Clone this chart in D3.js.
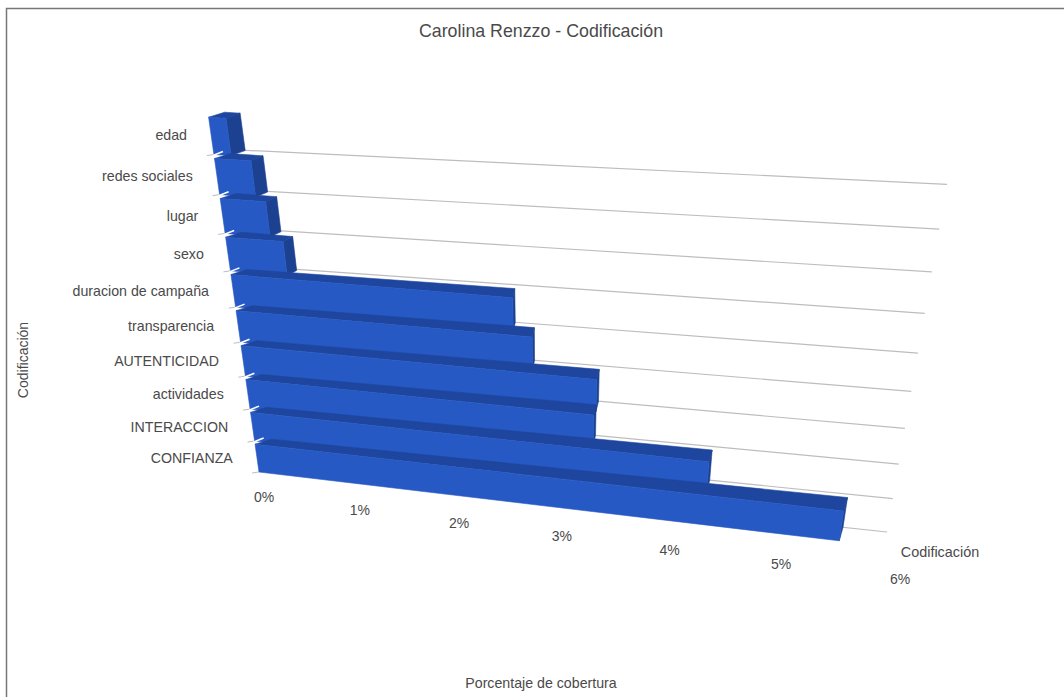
<!DOCTYPE html>
<html>
<head>
<meta charset="utf-8">
<script src="https://cdn.jsdelivr.net/npm/d3@7"></script>
<style>
  body { margin: 0; background: #fff; }
  text { font-family: "Liberation Sans", Arial, sans-serif; fill: #4a4a4a; }
</style>
</head>
<body>
<div id="graphic"></div>
<script>
// bottom to top, the order the bars stand on the plane
const categories = ['CONFIANZA', 'INTERACCION', 'actividades', 'AUTENTICIDAD', 'transparencia',
  'duracion de campaña', 'sexo', 'lugar', 'redes sociales', 'edad'];
const coverage = [5.62, 4.41, 3.36, 3.38, 2.8, 2.63, 0.55, 0.43, 0.34, 0.16];
const ticks = [0, 1, 2, 3, 4, 5, 6];

const width = 1064;
const height = 697;
const blue = '#2659c4';
const blueTop = '#1e469f';
const blueSide = '#1c4190';

const u = d3.scaleLinear().domain([0, 6]).range([0, 1]);
const t = d3.scaleLinear().domain([0, categories.length]).range([0, 1]);

// corners of the tilted plane: bottom left, bottom right, top right, top left
const quad = [[259, 472], [883, 546], [951, 152], [208, 113]];

// projective map from the unit square onto the quad
const project = (function() {
  const [[x0, y0], [x1, y1], [x2, y2], [x3, y3]] = quad;
  const sx = x0 - x1 + x2 - x3, sy = y0 - y1 + y2 - y3;
  const dx1 = x1 - x2, dx2 = x3 - x2, dy1 = y1 - y2, dy2 = y3 - y2;
  const den = dx1 * dy2 - dx2 * dy1;
  const g = (sx * dy2 - dx2 * sy) / den;
  const h = (dx1 * sy - sx * dy1) / den;
  const a = x1 - x0 + g * x1, b = x3 - x0 + h * x3;
  const d = y1 - y0 + g * y1, e = y3 - y0 + h * y3;
  return function(value, band) {
    const p = u(value), q = t(band);
    const w = g * p + h * q + 1;
    return [(a * p + b * q + x0) / w, (d * p + e * q + y0) / w];
  };
})();

// extrusion of the bars, it shrinks going away from the axis
const depthX = d3.scaleLinear().domain([0, 0.6, 2.5, 6]).range([16, 9, 2, 4]);
const depthY = d3.scaleLinear().domain([0, 0.6, 2.5, 6]).range([-5, -5, -9, -14]);
const back = (v, k) => {
  const p = project(v, k);
  return [p[0] + depthX(v), p[1] + depthY(v)];
};

const tickDx = d3.scaleLinear().domain([0, 3, 5, 6]).range([5, 8, 12, 17]);
const tickDy = d3.scaleLinear().domain([0, 6]).range([30, 38]);

const poly = pts => 'M' + pts.map(p => p.join(',')).join('L') + 'Z';

const svg = d3.select('#graphic')
  .append('svg')
  .attr('width', width)
  .attr('height', height)
  .style('display', 'block');

svg.append('path')
  .attr('d', `M6.5,${height}V8.5H${width}`)
  .attr('fill', 'none')
  .attr('stroke', '#777')
  .attr('stroke-width', 1.5);

svg.append('text')
  .attr('x', 541).attr('y', 37)
  .attr('text-anchor', 'middle')
  .attr('font-size', 17.8)
  .text('Carolina Renzzo - Codificación');

// grid lines and the small ticks left of the plane
svg.append('g').selectAll('line')
  .data(d3.range(categories.length))
  .join('line')
    .attr('x1', k => back(0, k)[0])
    .attr('y1', k => back(0, k)[1])
    .attr('x2', k => back(6, k)[0])
    .attr('y2', k => back(6, k)[1])
    .attr('stroke', '#bdbdbd')
    .attr('stroke-width', 1.2);

svg.append('g').selectAll('line')
  .data(d3.range(categories.length))
  .join('line')
    .attr('x1', k => project(0, k)[0] - 7)
    .attr('y1', k => project(0, k)[1] + 1)
    .attr('x2', k => project(0, k)[0])
    .attr('y2', k => project(0, k)[1])
    .attr('stroke', '#bdbdbd');

// painted from the farthest bar to the nearest so each one covers the one behind
const bars = svg.append('g').selectAll('g')
  .data(d3.range(categories.length).reverse())
  .join('g');

const barTop = k => k + 0.9;

bars.append('path')
  .attr('fill', blueTop)
  .attr('stroke', blueTop)
  .attr('stroke-width', 0.6)
  .attr('d', k => {
    const v = coverage[k];
    return poly([project(0, barTop(k)), project(v, barTop(k)), back(v, barTop(k)), back(0, barTop(k))]);
  });

bars.append('path')
  .attr('fill', blueSide)
  .attr('stroke', blueSide)
  .attr('stroke-width', 0.6)
  .attr('d', k => {
    const v = coverage[k];
    return poly([project(v, k), project(v, barTop(k)), back(v, barTop(k)), back(v, k)]);
  });

bars.append('path')
  .attr('fill', blue)
  .attr('stroke', blue)
  .attr('stroke-width', 0.6)
  .attr('d', k => {
    const v = coverage[k];
    return poly([project(0, k), project(v, k), project(v, barTop(k)), project(0, barTop(k))]);
  });

// white nicks where one bar meets the next
svg.append('g').selectAll('line')
  .data(d3.range(1, categories.length))
  .join('line')
    .attr('x1', k => project(0, k)[0] - 1)
    .attr('y1', k => project(0, k)[1] + 1)
    .attr('x2', k => project(0, k)[0] + 9)
    .attr('y2', k => project(0, k)[1] - 3)
    .attr('stroke', '#fff')
    .attr('stroke-width', 1.6);

svg.append('g').selectAll('text')
  .data(categories)
  .join('text')
    .attr('x', (d, k) => project(0, k + 0.5)[0] - 24)
    .attr('y', (d, k) => project(0, k + 0.5)[1] + 6.5)
    .attr('text-anchor', 'end')
    .attr('font-size', 14.2)
    .text(d => d);

svg.append('g').selectAll('text')
  .data(ticks)
  .join('text')
    .attr('x', v => project(v, 0)[0] + tickDx(v))
    .attr('y', v => project(v, 0)[1] + tickDy(v))
    .attr('text-anchor', 'middle')
    .attr('font-size', 14)
    .text(v => v + '%');

svg.append('text')
  .attr('x', 940).attr('y', 557)
  .attr('text-anchor', 'middle')
  .attr('font-size', 14.4)
  .text('Codificación');

svg.append('text')
  .attr('transform', 'translate(28,360) rotate(-90)')
  .attr('text-anchor', 'middle')
  .attr('font-size', 14)
  .text('Codificación');

svg.append('text')
  .attr('x', 541).attr('y', 688)
  .attr('text-anchor', 'middle')
  .attr('font-size', 14.2)
  .text('Porcentaje de cobertura');
</script>
</body>
</html>
